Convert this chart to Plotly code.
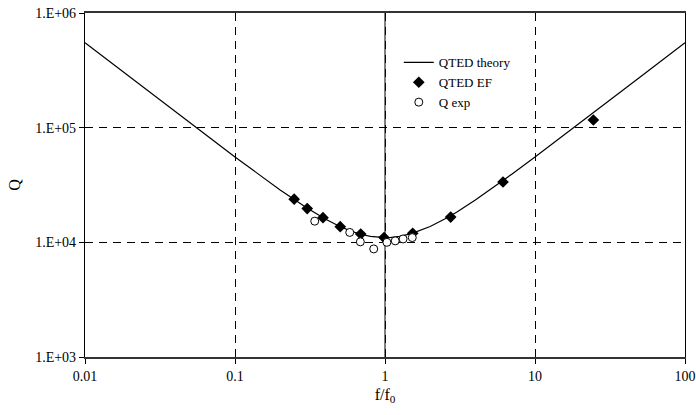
import plotly.graph_objects as go

# QTED theory curve
theory_x = [0.01, 0.02, 0.05, 0.1, 0.2, 0.3, 0.4, 0.5, 0.6, 0.7, 0.8, 0.9, 1.0,
            1.1, 1.25, 1.5, 1.75, 2.0, 2.5, 3.0, 4.0, 5.0, 7.0, 10.0, 20.0, 50.0, 100.0]
theory_q = [550000, 275000, 110000, 55500, 28600, 20000, 15950, 13750, 12470, 11700,
            11280, 11060, 11000, 11050, 11280, 11920, 12770, 13750, 15950, 18330,
            23400, 28600, 39300, 55500, 110000, 275000, 550000]

# QTED EF points
ef_x = [0.248, 0.303, 0.386, 0.503, 0.689, 0.985, 1.53, 2.74, 6.12, 24.5]
ef_q = [23800, 19700, 16400, 13700, 11800, 11000, 12000, 16600, 33600, 116700]

# Q exp points
exp_x = [0.340, 0.582, 0.685, 0.841, 1.03, 1.17, 1.32, 1.52]
exp_q = [15300, 12200, 10100, 8760, 10000, 10300, 10700, 11000]

x_ticks = [0.01, 0.1, 1, 10, 100]
x_ticktext = ["0.01", "0.1", "1", "10", "100"]
y_ticks = [1e3, 1e4, 1e5, 1e6]
y_ticktext = ["1.E+03", "1.E+04", "1.E+05", "1.E+06"]

FONT = "Liberation Serif, Times New Roman, serif"

fig = go.Figure()
fig.add_trace(go.Scatter(x=theory_x, y=theory_q, mode="lines", name="QTED theory",
                         line=dict(color="black", width=1.2)))
fig.add_trace(go.Scatter(x=ef_x, y=ef_q, mode="markers", name="QTED EF",
                         marker=dict(symbol="diamond", size=9, color="black")))
fig.add_trace(go.Scatter(x=exp_x, y=exp_q, mode="markers", name="Q exp",
                         marker=dict(symbol="circle", size=8, color="white",
                                     line=dict(color="black", width=1))))

# solid vertical line at f/f0 = 1
fig.add_shape(type="line", xref="x", yref="paper", x0=1, x1=1, y0=0, y1=1,
              line=dict(color="black", width=1), layer="below")

fig.update_xaxes(type="log", range=[-2, 2], tickvals=x_ticks, ticktext=x_ticktext,
                 showgrid=True, gridcolor="black", gridwidth=1, griddash="8px,6px",
                 showline=True, linecolor="#333", linewidth=2, mirror=True,
                 ticks="outside", ticklen=5, tickcolor="black", automargin=False,
                 title=dict(text="f/f<sub>0</sub>", font=dict(size=16, family=FONT, color="black"),
                            standoff=6),
                 tickfont=dict(size=14, family=FONT, color="black"), zeroline=False)
fig.update_yaxes(type="log", range=[3, 6], tickvals=y_ticks, ticktext=y_ticktext,
                 showgrid=True, gridcolor="black", gridwidth=1, griddash="8px,6px",
                 showline=True, linecolor="black", linewidth=1.2, mirror=True,
                 ticks="outside", ticklen=5, tickcolor="black", automargin=False,
                 title=dict(text="Q", font=dict(size=16, family=FONT, color="black"),
                            standoff=10),
                 tickfont=dict(size=14, family=FONT, color="black"), zeroline=False)

fig.update_layout(
    width=696, height=415,
    margin=dict(l=85, r=11, t=13, b=58, autoexpand=False),
    paper_bgcolor="white", plot_bgcolor="white",
    font=dict(family=FONT, color="black", size=14),
    showlegend=True,
    legend=dict(x=0.523, y=0.9, xanchor="left", yanchor="top",
                bgcolor="rgba(0,0,0,0)", borderwidth=0,
                font=dict(size=13, family=FONT, color="black"),
                tracegroupgap=0, itemwidth=30),
)

fig.write_html("out.html", config={"displayModeBar": False},
               post_script="document.body.style.margin='0';")
